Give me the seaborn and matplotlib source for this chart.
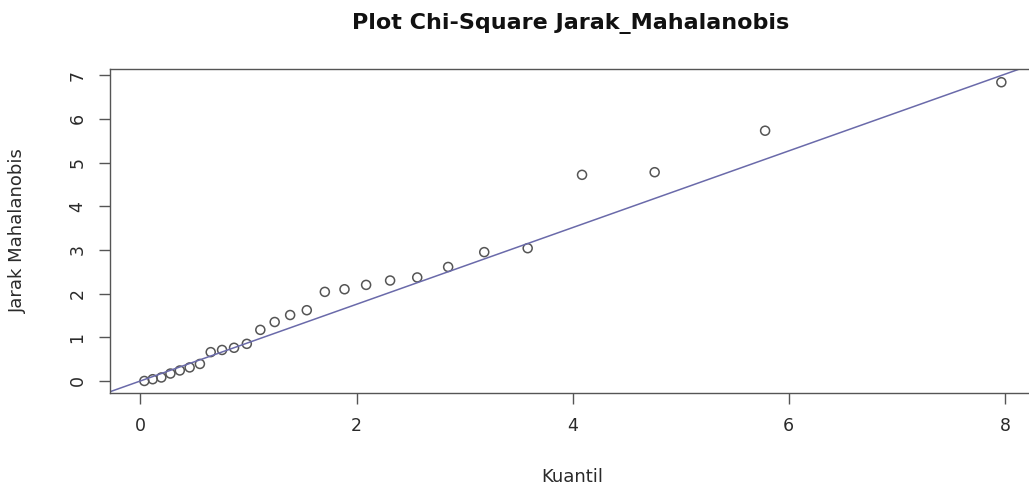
import numpy as np
import pandas as pd
import matplotlib
matplotlib.use('Agg')
import matplotlib.pyplot as plt
import seaborn as sns

sns.set_theme(style="white")
plt.rcParams['font.family'] = ['DejaVu Sans']

# chi-square quantiles (x) and sorted Mahalanobis distances (y)
kuantil = [0.037, 0.114, 0.194, 0.278, 0.365, 0.456, 0.551, 0.651, 0.756,
           0.867, 0.985, 1.110, 1.243, 1.386, 1.540, 1.707, 1.889, 2.089,
           2.311, 2.562, 2.848, 3.182, 3.584, 4.087, 4.759, 5.781, 7.967]
jarak = [0.00, 0.04, 0.08, 0.17, 0.24, 0.31, 0.39, 0.66, 0.71, 0.76,
         0.85, 1.17, 1.35, 1.51, 1.62, 2.04, 2.10, 2.20, 2.30, 2.37,
         2.61, 2.95, 3.04, 4.72, 4.78, 5.73, 6.84]
line_intercept = 0.0
line_slope = 0.878
x_ticks = [0, 2, 4, 6, 8]
y_ticks = [0, 1, 2, 3, 4, 5, 6, 7]

df = pd.DataFrame({'Kuantil': kuantil, 'Jarak': jarak})

fig = plt.figure(figsize=(10.29, 4.94), dpi=100)
ax = fig.add_axes([0.107, 0.2045, 0.899, 0.656])

sns.scatterplot(data=df, x='Kuantil', y='Jarak', ax=ax, marker='o',
                facecolor='none', edgecolor='#555555', linewidth=1.1, s=42)
ax.axline((0, line_intercept), slope=line_slope, color='#6a6aaa', linewidth=1.1)

ax.set_xlim(-0.28, 8.28)
ax.set_ylim(-0.275, 7.145)
ax.set_xticks(x_ticks)
ax.set_yticks(y_ticks)
ax.set_yticklabels([str(v) for v in y_ticks], rotation=90, va='center')

for s in ax.spines.values():
    s.set_color('#555555')
    s.set_linewidth(1.0)

ax.tick_params(axis='both', which='both', direction='out', length=8, width=1,
               color='#555555', labelsize=12.5, labelcolor='#2a2a2a',
               bottom=True, left=True)
ax.tick_params(axis='x', pad=9)
ax.tick_params(axis='y', pad=9)

ax.set_xlabel('Kuantil', fontsize=13, color='#2a2a2a', labelpad=24)
ax.set_ylabel('Jarak Mahalanobis', fontsize=13, color='#2a2a2a', labelpad=30)
fig.text(0.555, 0.9413, 'Plot Chi-Square Jarak_Mahalanobis', ha='center', va='baseline',
         fontsize=16, fontweight='bold', color='#111111')

fig.savefig('out.png', dpi=100)
